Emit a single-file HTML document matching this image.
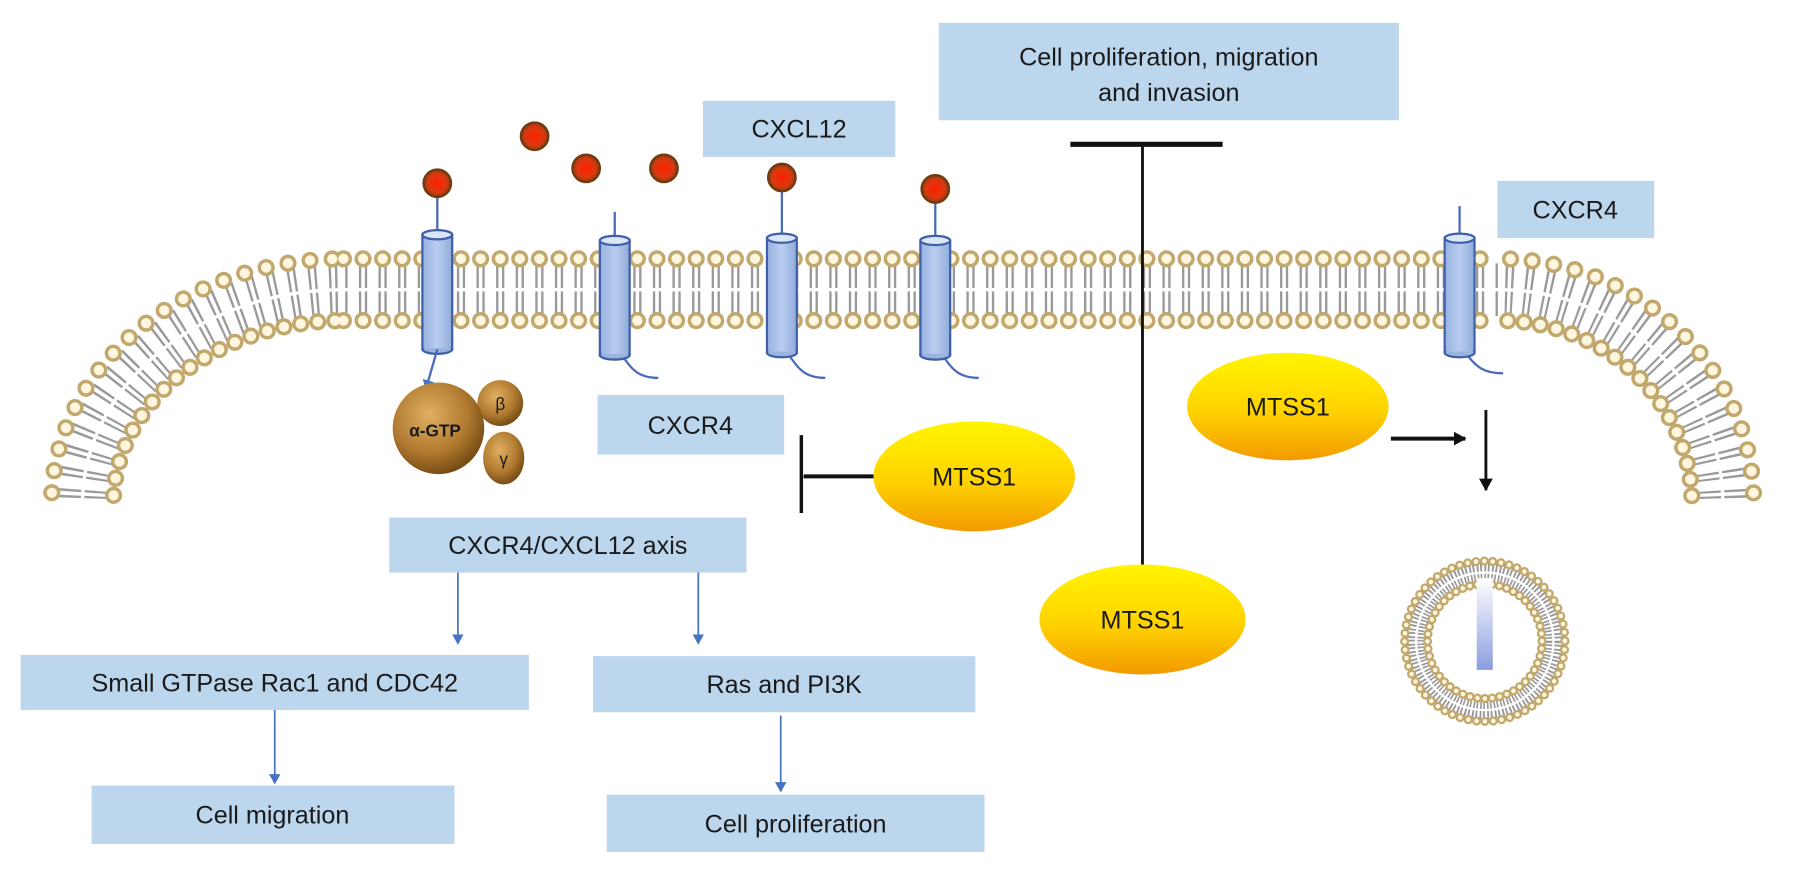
<!DOCTYPE html>
<html><head><meta charset="utf-8"><style>html,body{margin:0;padding:0;background:#fff}svg{display:block}text{font-family:"Liberation Sans",Arial,sans-serif;fill:#1a1a1a}</style></head>
<body>
<svg width="1795" height="876" viewBox="0 0 1568 765" preserveAspectRatio="none" xmlns="http://www.w3.org/2000/svg">
<defs>
<linearGradient id="yel" x1="0" y1="0" x2="0" y2="1"><stop offset="0" stop-color="#fff500"/><stop offset="0.55" stop-color="#ffd200"/><stop offset="1" stop-color="#f29a00"/></linearGradient>
<radialGradient id="brown" cx="0.4" cy="0.35" r="0.7"><stop offset="0" stop-color="#e0b060"/><stop offset="0.6" stop-color="#b07a30"/><stop offset="1" stop-color="#6e4410"/></radialGradient>
<radialGradient id="lig" cx="0.5" cy="0.5" r="0.5"><stop offset="0" stop-color="#ff2000"/><stop offset="0.7" stop-color="#d83a10"/><stop offset="1" stop-color="#8a3a10"/></radialGradient>
<linearGradient id="cyl" x1="0" y1="0" x2="1" y2="0"><stop offset="0" stop-color="#9ab4e0"/><stop offset="0.5" stop-color="#b8cdf0"/><stop offset="1" stop-color="#93aedb"/></linearGradient>
<linearGradient id="ves" x1="0" y1="0" x2="0" y2="1"><stop offset="0" stop-color="#ffffff"/><stop offset="1" stop-color="#8a9ee0"/></linearGradient>
<marker id="ab" markerWidth="10" markerHeight="10" refX="8" refY="5" orient="auto" markerUnits="userSpaceOnUse"><path d="M0,0 L9,5 L0,10 Z" fill="#4472c4"/></marker>
<marker id="ak" markerWidth="12" markerHeight="12" refX="10" refY="6" orient="auto" markerUnits="userSpaceOnUse"><path d="M0,0 L11,6 L0,12 Z" fill="#111"/></marker>
<g id="cy"><rect x="-13" y="0" width="26" height="100" fill="url(#cyl)"/><ellipse cx="0" cy="100" rx="13" ry="4" fill="#9ab4e0"/><rect x="-12" y="1" width="24" height="98" fill="url(#cyl)" stroke="none"/><ellipse cx="0" cy="0" rx="13" ry="4" fill="#dbe6f8"/></g>
</defs>

<!-- membrane tails -->
<g fill="none" stroke="#9a9a9a" stroke-width="46">
<path d="M72,440 A228 187 0 0 1 300 253" pathLength="19" stroke-dasharray="0.12 0.18 0.12 0.58" stroke-dashoffset="-0.29"/>
<path d="M300,253 L1310,253" pathLength="59" stroke-dasharray="0.12 0.18 0.12 0.58" stroke-dashoffset="0.21"/>
<path d="M1310,253 A195 187 0 0 1 1505 440" pathLength="18" stroke-dasharray="0.12 0.18 0.12 0.58" stroke-dashoffset="-0.29"/>
</g>
<g fill="none" stroke="#fff" stroke-width="3">
<path d="M72,440 A228 187 0 0 1 300 253 L1310 253 A195 187 0 0 1 1505 440"/>
</g>
<!-- heads -->
<g fill="none" stroke-linecap="round">
<g stroke="#c2a86c" stroke-width="15">
<path d="M45,440 A255 214 0 0 1 300 226" pathLength="19" stroke-dasharray="0 1" stroke-dashoffset="-0.5"/>
<path d="M300,226 L1310,226" pathLength="59" stroke-dasharray="0 1"/>
<path d="M1310,226 A222 214 0 0 1 1532 440" pathLength="18" stroke-dasharray="0 1" stroke-dashoffset="-0.5"/>
<path d="M99,440 A201 160 0 0 1 300 280" pathLength="19" stroke-dasharray="0 1" stroke-dashoffset="-0.5"/>
<path d="M300,280 L1310,280" pathLength="59" stroke-dasharray="0 1"/>
<path d="M1310,280 A168 160 0 0 1 1478 440" pathLength="18" stroke-dasharray="0 1" stroke-dashoffset="-0.5"/>
</g>
<g stroke="#fff6e0" stroke-width="9">
<path d="M45,440 A255 214 0 0 1 300 226" pathLength="19" stroke-dasharray="0 1" stroke-dashoffset="-0.5"/>
<path d="M300,226 L1310,226" pathLength="59" stroke-dasharray="0 1"/>
<path d="M1310,226 A222 214 0 0 1 1532 440" pathLength="18" stroke-dasharray="0 1" stroke-dashoffset="-0.5"/>
<path d="M99,440 A201 160 0 0 1 300 280" pathLength="19" stroke-dasharray="0 1" stroke-dashoffset="-0.5"/>
<path d="M300,280 L1310,280" pathLength="59" stroke-dasharray="0 1"/>
<path d="M1310,280 A168 160 0 0 1 1478 440" pathLength="18" stroke-dasharray="0 1" stroke-dashoffset="-0.5"/>
</g>
</g>

<!-- vesicle -->
<circle cx="1297" cy="560" r="60" fill="none" stroke="#9a9a9a" stroke-width="22" pathLength="60" stroke-dasharray="0.25 0.2 0.25 0.3"/>
<circle cx="1297" cy="560" r="60" fill="none" stroke="#fff" stroke-width="2"/>
<circle cx="1297" cy="560" r="70" fill="none" stroke="#c2a86c" stroke-width="8" stroke-linecap="round" pathLength="60" stroke-dasharray="0 1"/>
<circle cx="1297" cy="560" r="70" fill="none" stroke="#fff6e0" stroke-width="4" stroke-linecap="round" pathLength="60" stroke-dasharray="0 1"/>
<circle cx="1297" cy="560" r="50" fill="none" stroke="#c2a86c" stroke-width="8" stroke-linecap="round" pathLength="48" stroke-dasharray="0 1"/>
<circle cx="1297" cy="560" r="50" fill="none" stroke="#fff6e0" stroke-width="4" stroke-linecap="round" pathLength="48" stroke-dasharray="0 1"/>
<rect x="1290" y="505" width="14" height="80" fill="url(#ves)"/>

<!-- receptors -->
<g stroke="#4a6bb8" stroke-width="2" fill="none">
<line x1="382" y1="160" x2="382" y2="205"/>
<line x1="537" y1="185" x2="537" y2="210"/>
<line x1="683" y1="155" x2="683" y2="208"/>
<line x1="817" y1="165" x2="817" y2="210"/>
<line x1="1275" y1="180" x2="1275" y2="208"/>
<path d="M537,305 C548,310 548,330 575,330"/>
<path d="M683,305 C694,310 694,330 721,330"/>
<path d="M817,305 C828,310 828,330 855,330"/>
<path d="M1275,305 C1286,310 1286,326 1313,326"/>
</g>
<g stroke="#3f5fa8" stroke-width="2">
<use href="#cy" x="382" y="205"/><use href="#cy" x="537" y="210"/><use href="#cy" x="683" y="208"/><use href="#cy" x="817" y="210"/><use href="#cy" x="1275" y="208"/>
</g>
<!-- ligands -->
<g fill="url(#lig)" stroke="#6e3a10" stroke-width="2">
<circle cx="382" cy="160" r="12"/><circle cx="467" cy="119" r="12"/><circle cx="512" cy="147" r="12"/><circle cx="580" cy="147" r="12"/><circle cx="683" cy="155" r="12"/><circle cx="817" cy="165" r="12"/>
</g>
<!-- G protein -->
<path d="M382,305 L372,340" stroke="#4a6bb8" stroke-width="2" fill="none" marker-end="url(#ab)"/>
<circle cx="437" cy="352" r="20" fill="url(#brown)"/>
<ellipse cx="440" cy="400" rx="18" ry="23" fill="url(#brown)"/>
<circle cx="383" cy="374" r="40" fill="url(#brown)"/>
<text x="380" y="381" font-size="15" font-weight="bold" text-anchor="middle">α-GTP</text>
<text x="437" y="358" font-size="15" text-anchor="middle">β</text>
<text x="440" y="406" font-size="15" text-anchor="middle">γ</text>

<!-- boxes -->
<g fill="#bcd6ee">
<rect x="820" y="20" width="402" height="85"/>
<rect x="614" y="88" width="168" height="49"/>
<rect x="1308" y="158" width="137" height="50"/>
<rect x="522" y="345" width="163" height="52"/>
<rect x="340" y="452" width="312" height="48"/>
<rect x="18" y="572" width="444" height="48"/>
<rect x="518" y="573" width="334" height="49"/>
<rect x="80" y="686" width="317" height="51"/>
<rect x="530" y="694" width="330" height="50"/>
</g>
<g font-size="22" text-anchor="middle">
<text x="1021" y="57">Cell proliferation, migration</text>
<text x="1021" y="88">and invasion</text>
<text x="698" y="120">CXCL12</text>
<text x="1376" y="191">CXCR4</text>
<text x="603" y="379">CXCR4</text>
<text x="496" y="484">CXCR4/CXCL12 axis</text>
<text x="240" y="604">Small GTPase Rac1 and CDC42</text>
<text x="685" y="605">Ras and PI3K</text>
<text x="238" y="719">Cell migration</text>
<text x="695" y="727">Cell proliferation</text>
</g>

<!-- blue arrows -->
<g stroke="#4472c4" stroke-width="1.5" marker-end="url(#ab)">
<line x1="400" y1="500" x2="400" y2="562"/>
<line x1="610" y1="500" x2="610" y2="562"/>
<line x1="240" y1="620" x2="240" y2="684"/>
<line x1="682" y1="625" x2="682" y2="691"/>
</g>

<!-- black connectors -->
<g stroke="#111" stroke-width="3.5" fill="none">
<line x1="935" y1="126" x2="1068" y2="126" stroke-width="4.5"/>
<line x1="998" y1="126" x2="998" y2="505" stroke-width="2.5"/>
<line x1="700" y1="380" x2="700" y2="448" stroke-width="3"/>
<line x1="702" y1="416" x2="764" y2="416"/>
<line x1="1215" y1="383" x2="1280" y2="383" marker-end="url(#ak)"/>
<line x1="1298" y1="358" x2="1298" y2="428" stroke-width="2.5" marker-end="url(#ak)"/>
</g>

<!-- MTSS1 -->
<g fill="url(#yel)">
<ellipse cx="851" cy="416" rx="88" ry="48"/>
<ellipse cx="998" cy="541" rx="90" ry="48"/>
<ellipse cx="1125" cy="355" rx="88" ry="47"/>
</g>
<g font-size="22" text-anchor="middle">
<text x="851" y="424">MTSS1</text>
<text x="998" y="549">MTSS1</text>
<text x="1125" y="363">MTSS1</text>
</g>
</svg>
</body></html>
